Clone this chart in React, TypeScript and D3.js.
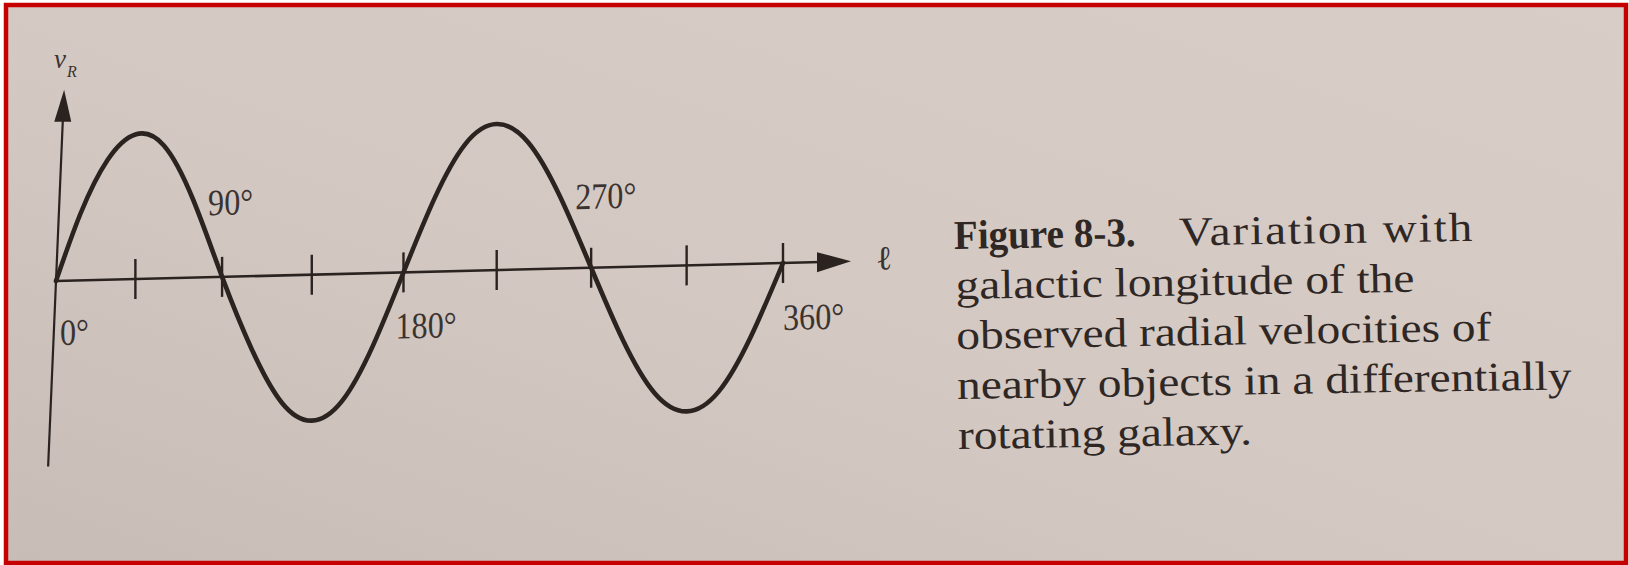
import React from "react";
import * as d3 from "d3";

// Galactic longitude samples (degrees) and the normalised radial velocity read at each.
const longitudes = [0, 15, 30, 45, 60, 75, 90, 105, 120, 135, 150, 165, 180, 195, 210, 225, 240, 255, 270, 285, 300, 315, 330, 345, 360];
const radialVelocity = [0, 0.46, 0.82, 0.99, 0.91, 0.54, 0, -0.5, -0.87, -1, -0.87, -0.5, 0, 0.5, 0.87, 1, 0.87, 0.5, 0, -0.5, -0.87, -1, -0.87, -0.5, 0];

// Tick marks along the longitude axis and the labelled longitudes.
const tickLongitudes = [45, 90, 135, 180, 225, 270, 315, 360];
const labelLongitudes = [0, 90, 180, 270, 360];
const labelTexts = ["0°", "90°", "180°", "270°", "360°"];

// Caption beside the figure.
const captionHead = "Figure 8-3.";
const captionLines = [
  "Variation with",
  "galactic longitude of the",
  "observed radial velocities of",
  "nearby objects in a differentially",
  "rotating galaxy.",
];

const W = 1629;
const H = 565;
const INK = "#2a2320";
const SERIF = "'Liberation Serif', 'DejaVu Serif', serif";

export default function App() {
  // Longitude runs along the axis with a slight stretch towards the right.
  const x = d3.scalePow().exponent(1.065).domain([0, 360]).range([0, 727]);
  const y = d3.scaleLinear().domain([-1, 1]).range([146, -146]);

  const points: [number, number][] = longitudes.map((l, i) => [l, radialVelocity[i]]);
  const curve = d3
    .line<[number, number]>()
    .x((d) => x(d[0]))
    .y((d) => y(d[1]))
    .curve(d3.curveNatural)(points) as string;

  const axisTop = 1.31;
  const axisBottom = -1.27;
  const xAxisEnd = 795;

  // Label placement around each labelled crossing (above-left or below-right).
  const labelOffsets: Record<number, [number, number]> = {
    0: [4, 64],
    90: [-14, -62],
    180: [-8, 66],
    270: [-16, -59],
    360: [0, 67],
  };

  return (
    <div style={{ position: "absolute", left: 0, top: 0 }}>
      <svg width={W} height={H} viewBox={`0 0 ${W} ${H}`} style={{ display: "block" }}>
        <defs>
          <linearGradient id="paper" x1="1" y1="0" x2="0" y2="1">
            <stop offset="0" stopColor="#d9cdc7" />
            <stop offset="0.55" stopColor="#d4c8c2" />
            <stop offset="1" stopColor="#c8bcb6" />
          </linearGradient>
        </defs>
        <rect x={0} y={0} width={W} height={H} fill="#ffffff" />
        <rect x={6} y={5} width={1620} height={558} fill="url(#paper)" stroke="#c60000" strokeWidth={4.5} />

        {/* vertical axis */}
        <g transform="matrix(1,0,-0.0424,1,56,281)">
          <line x1={0} x2={0} y1={y(axisBottom)} y2={y(axisTop) + 20} stroke={INK} strokeWidth={2.2} />
          <path
            d={`M0,${y(axisTop)} L8.5,${y(axisTop) + 32} L-8.5,${y(axisTop) + 32} Z`}
            fill={INK}
          />
        </g>

        {/* axis label v_R */}
        <text x={54} y={68} fontFamily={SERIF} fontStyle="italic" fontSize={27} fill="#3a3330">
          v
        </text>
        <text x={67} y={77} fontFamily={SERIF} fontStyle="italic" fontSize={16} fill="#3a3330">
          R
        </text>

        {/* longitude axis, ticks, curve and labels */}
        <g transform="matrix(1,-0.0248,0,1,56,281)">
          <line x1={0} x2={xAxisEnd - 20} y1={y(0)} y2={y(0)} stroke={INK} strokeWidth={2.6} />
          <path d={`M${xAxisEnd},${y(0)} L${xAxisEnd - 34},${y(0) - 10} L${xAxisEnd - 34},${y(0) + 10} Z`} fill={INK} />
          {tickLongitudes.map((l) => (
            <line key={l} x1={x(l)} x2={x(l)} y1={y(0) - 20} y2={y(0) + 20} stroke={INK} strokeWidth={2.4} />
          ))}
          <path d={curve} fill="none" stroke={INK} strokeWidth={4.6} strokeLinecap="round" strokeLinejoin="round" />
          {labelLongitudes.map((l, i) => {
            const [dx, dy] = labelOffsets[l];
            return (
              <g key={l} transform={`translate(${x(l) + dx},${y(0) + dy})`}>
                <text transform="scale(0.87,1)" fontFamily={SERIF} fontSize={37} fill="#3a3330">
                  {labelTexts[i]}
                </text>
              </g>
            );
          })}
          <text x={820} y={y(0) + 9} fontFamily={SERIF} fontSize={34} fill="#3a3330">
            ℓ
          </text>
        </g>

        {/* caption */}
        <g transform="rotate(-0.9 954 249)" fontFamily={SERIF} fill="#2e2724">
          <g transform="translate(954,249)">
            <text transform="scale(0.955,1)" fontWeight="bold" fontSize={41}>
              {captionHead}
            </text>
          </g>
          {captionLines.map((line, i) => (
            <g key={i} transform={`translate(${i === 0 ? 1179 : 955},${249 + i * 50})`}>
              <text transform="scale(1.155,1)" fontSize={41} letterSpacing={i === 0 ? 1.6 : 0}>
                {line}
              </text>
            </g>
          ))}
        </g>
      </svg>
    </div>
  );
}
